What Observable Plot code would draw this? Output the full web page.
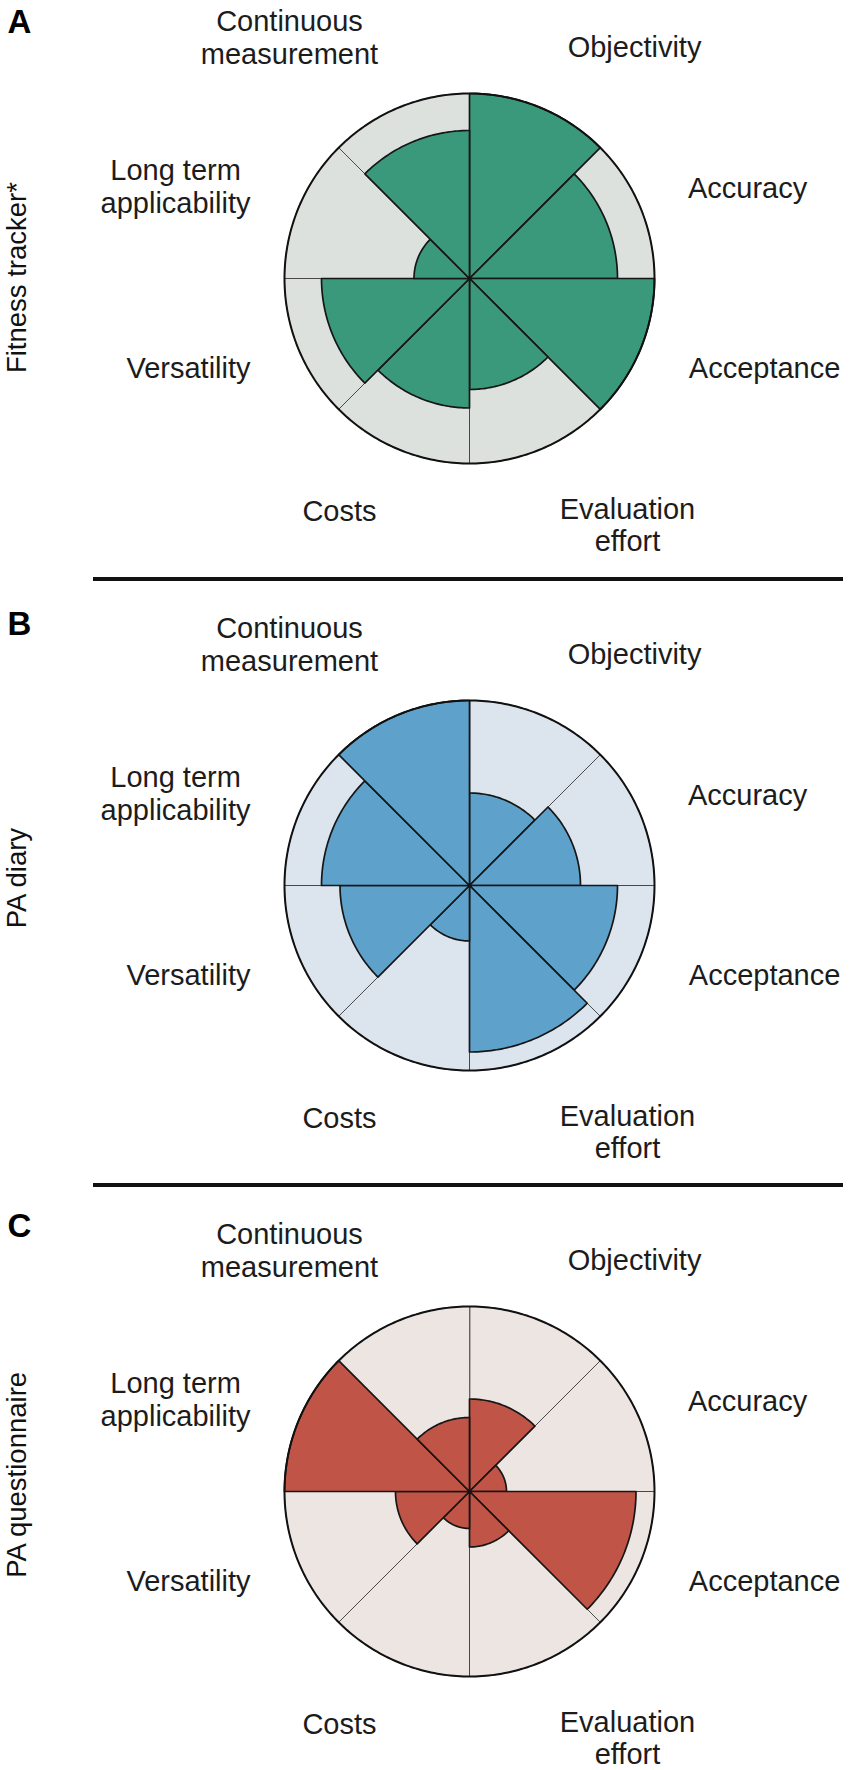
<!DOCTYPE html>
<html><head><meta charset="utf-8">
<script src="https://cdn.jsdelivr.net/npm/d3@7"></script>
<script src="https://cdn.jsdelivr.net/npm/@observablehq/plot@0.6"></script>
<style>
body{margin:0;background:#fff;}
#chart{width:851px;}
.sep{margin-left:93px;width:750px;height:4px;background:#111;}
svg{display:block;}
</style></head><body><div id="chart"></div>
<script>
// ---- data ----
const categories = ["Objectivity", "Accuracy", "Acceptance", "Evaluation\neffort", "Costs", "Versatility", "Long term\napplicability", "Continuous\nmeasurement"];
const fitnessTracker  = [10, 8, 10, 6, 7, 8, 3, 8];
const paDiary         = [5, 6, 8, 9, 3, 7, 8, 10];
const paQuestionnaire = [5, 2, 9, 3, 2, 4, 10, 4];
const panelLetters = ["A", "B", "C"];
const panelNames = ["Fitness tracker*", "PA diary", "PA questionnaire"];
const panelValues = [fitnessTracker, paDiary, paQuestionnaire];
const maxScore = 10;

// ---- styling / layout ----
const panelColors = ["#3a997b", "#5ea2cb", "#c05447"];
const panelBgs    = ["#dde1de", "#dce5ee", "#ece5e2"];
// label anchors in score units (x right, y up), relative to centre
const labelAt = [[8.92, 12.52], [15.03, 4.94], [15.95, -4.79], [8.54, -13.30],
                 [-7.03, -12.52], [-15.19, -4.79], [-15.89, 4.98], [-9.73, 13.07]];
const panelLayout = [
  {height: 577, cy: 278, letterTop: 8.6, sideY: 0.05},
  {height: 602, cy: 304, letterTop: 29.6, sideY: 0.4},
  {height: 583, cy: 304, letterTop: 26, sideY: 0.9}
];
const W = 851, CX = 469, PX = 18.5; // px per score unit
const FONT = "'Liberation Sans', Arial, Helvetica, sans-serif";

function wedges(values) {
  const N = 48, pts = [];
  values.forEach((v, k) => {
    pts.push({k, x: 0, y: 0});
    for (let j = 0; j <= N; j++) {
      const a = (k + j / N) * Math.PI / 4;
      pts.push({k, x: v * Math.sin(a), y: v * Math.cos(a)});
    }
  });
  return pts;
}
const circle = d3.range(0, 360, 1).map(d => ({x: maxScore * Math.sin(d * Math.PI / 180), y: maxScore * Math.cos(d * Math.PI / 180)}));

const root = document.getElementById("chart");
panelValues.forEach((values, p) => {
  const L = panelLayout[p];
  const h = L.height;
  const plot = Plot.plot({
    width: W, height: h,
    margin: 0,
    x: {domain: [-CX / PX, (W - CX) / PX], axis: null},
    y: {domain: [-(h - L.cy) / PX, L.cy / PX], axis: null},
    style: {fontFamily: FONT, background: "transparent", overflow: "visible"},
    marks: [
      Plot.line(wedges(categories.map(() => maxScore)), {x: "x", y: "y", z: "k", curve: "linear-closed",
        fill: panelBgs[p], stroke: "#2a2a2a", strokeWidth: 0.8}),
      Plot.line(wedges(values), {x: "x", y: "y", z: "k", curve: "linear-closed",
        fill: panelColors[p], stroke: "#161616", strokeWidth: 1.7, strokeLinejoin: "round"}),
      Plot.line(circle, {x: "x", y: "y", curve: "linear-closed", stroke: "#111", strokeWidth: 2}),
      Plot.text(categories, {x: (d, i) => labelAt[i][0], y: (d, i) => labelAt[i][1], text: d => d,
        fontSize: 29, lineHeight: 1.13, fill: "#1c1c1c", textAnchor: "middle", lineAnchor: "middle"}),
      Plot.text([panelLetters[p]], {frameAnchor: "top-left", text: d => d, dx: 7, dy: L.letterTop,
        fontSize: 33, fontWeight: "bold", fill: "#000", lineAnchor: "top"}),
      Plot.text([panelNames[p]], {frameAnchor: "left", y: () => L.sideY, text: d => d, dx: 17, rotate: -90,
        fontSize: 27.5, fill: "#111", textAnchor: "middle", lineAnchor: "middle"})
    ]
  });
  root.appendChild(plot);
  if (p < 2) {
    const s = document.createElement("div");
    s.className = "sep";
    root.appendChild(s);
  }
});
</script></body></html>
